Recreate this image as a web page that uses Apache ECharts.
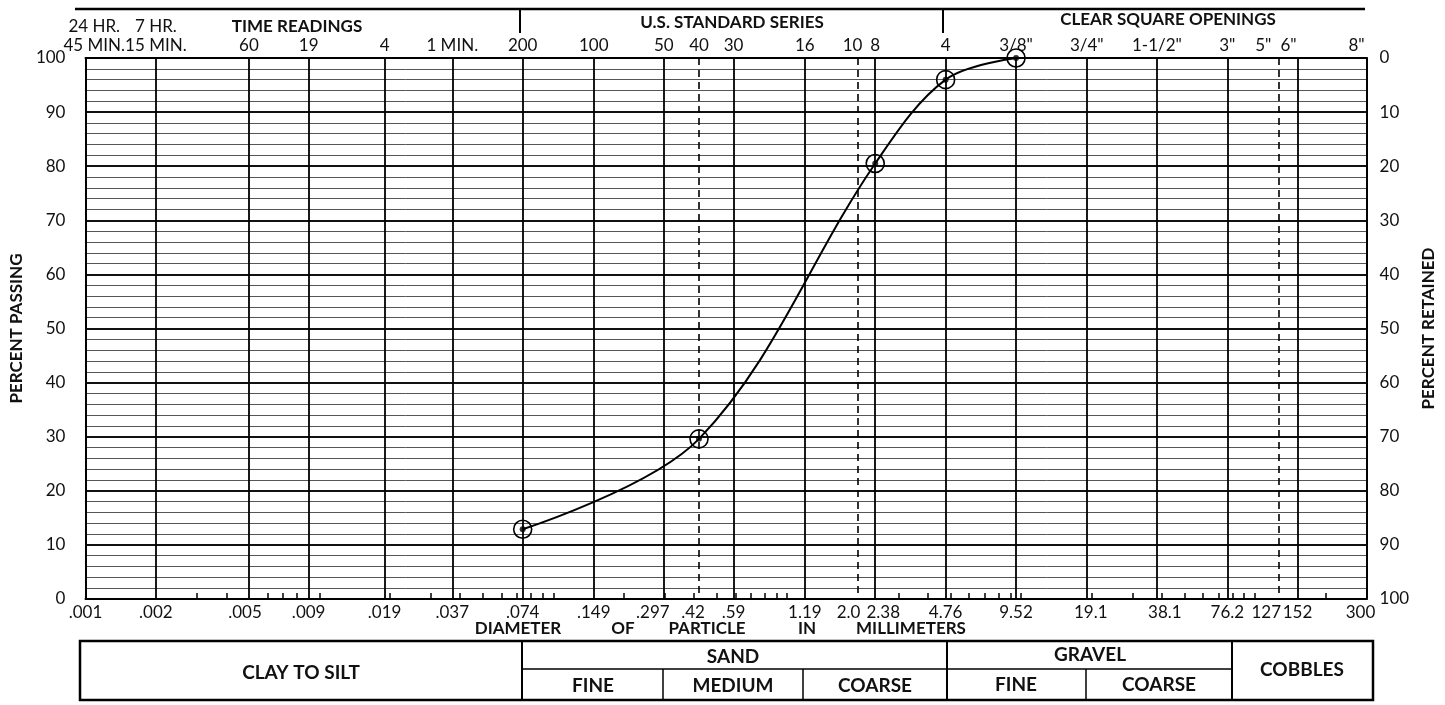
<!DOCTYPE html>
<html>
<head>
<meta charset="utf-8">
<script src="https://cdn.jsdelivr.net/npm/echarts@6/dist/echarts.min.js"></script>
<style>
html,body{margin:0;padding:0;background:#fff;}
#chart{width:1445px;height:705px;}
</style>
</head>
<body>
<div id="chart"></div>
<script>
// ---------------- DATA ----------------
const particleSizeMm = [0.074, 0.42, 2.38, 4.76, 9.52];
const percentPassing = [12.9, 29.6, 80.5, 96.0, 100];

const bottomTickValues = [0.001, 0.002, 0.005, 0.009, 0.019, 0.037, 0.074, 0.149, 0.297, 0.42, 0.59, 1.19, 2.0, 2.38, 4.76, 9.52, 19.1, 38.1, 76.2, 127, 152, 300];
const bottomTickLabels = ['.001', '.002', '.005', '.009', '.019', '.037', '.074', '.149', '.297', '.42', '.59', '1.19', '2.0', '2.38', '4.76', '9.52', '19.1', '38.1', '76.2', '127', '152', '300'];

const solidGridValues = [0.002, 0.005, 0.009, 0.019, 0.037, 0.074, 0.149, 0.297, 0.59, 1.19, 2.38, 4.76, 9.52, 19.1, 38.1, 76.2, 152];
const dashedGridValues = [0.42, 2.0, 127];
const minorTickValues = [0.003, 0.004, 0.006, 0.007, 0.008, 0.01, 0.02, 0.03, 0.04, 0.05, 0.06, 0.07, 0.08, 0.09, 0.1, 0.2, 0.3, 0.4, 0.5, 0.6, 0.7, 0.8, 0.9, 1, 3, 4, 5, 6, 7, 8, 9, 10, 20, 30, 40, 50, 60, 70, 80, 90, 100, 200];

const topTickValues = [0.00109, 0.002, 0.005, 0.009, 0.019, 0.037, 0.074, 0.149, 0.297, 0.42, 0.59, 1.19, 2.0, 2.38, 4.76, 9.52, 19.1, 38.1, 76.2, 127, 152, 272];
const topTickLabels = ['24 HR.\n45 MIN.', '7 HR.\n15 MIN.', '60', '19', '4', '1 MIN.', '200', '100', '50', '40', '30', '16', '10', '8', '4', '3/8"', '3/4"', '1-1/2"', '3"', '5"', '6"', '8"'];

// ---------------- LAYOUT / STYLE ----------------
const FONT = 'Lato, "Open Sans", "DejaVu Sans", sans-serif';
const INK = '#111';
// small horizontal nudges (px) of some tick labels, as printed on the form
const bottomNudge = {'.005': -4, '.297': -11, '.42': -6, '2.0': -9, '2.38': 8, '19.1': 4, '38.1': 8, '127': -13, '300': -6};
const topNudge = {'10': -5, '5"': -16, '6"': -9};

function nearestIdx(arr, v) {
  let best = 0, bd = Infinity;
  arr.forEach((a, i) => { const d = Math.abs(Math.log(a) - Math.log(v)); if (d < bd) { bd = d; best = i; } });
  return best;
}
function styleName(s) { return (s < 0 ? 'm' : 'p') + Math.abs(s); }
function makeFormatter(values, texts, nudge) {
  return function (v) {
    const t = texts[nearestIdx(values, v)];
    const s = nudge[t] || 0;
    if (!s) return t;
    return '{' + styleName(s) + '|' + t + '}';
  };
}
function makeRich(nudge, size) {
  const r = {};
  Object.keys(nudge).forEach(k => {
    const s = nudge[k];
    r[styleName(s)] = {
      padding: s < 0 ? [0, -2 * s, 0, 0] : [0, 0, 0, 2 * s],
      fontSize: size, fontFamily: FONT, color: INK
    };
  });
  return r;
}

const chart = echarts.init(document.getElementById('chart'));

const gridBox = {left: 84, right: 72, top: 58, bottom: 106};
const hidden = {show: false};

function logAxis(extra) {
  return Object.assign({
    type: 'log', logBase: 10, min: 0.001, max: 300, gridIndex: 0,
    axisLine: {show: false, onZero: false},
    axisTick: {show: false},
    axisLabel: {show: false},
    splitLine: {show: false},
    minorTick: hidden, minorSplitLine: hidden
  }, extra);
}

const seriesData = particleSizeMm.map((d, i) => [d, percentPassing[i]]);

// table + header decoration
const TL = 80, TR = 1373, TT = 641, TB = 700, TM = 669;
function hline(x1, x2, y, w) { return {type: 'line', silent: true, shape: {x1, y1: y, x2, y2: y}, style: {stroke: '#000', lineWidth: w}}; }
function vline(x, y1, y2, w) { return {type: 'line', silent: true, shape: {x1: x, y1, x2: x, y2}, style: {stroke: '#000', lineWidth: w}}; }
function txt(s, x, y, size, bold) {
  return {type: 'text', silent: true, x, y, style: {text: s, fontSize: size, fontWeight: bold ? 'bold' : 'normal', fontFamily: FONT, fill: INK, align: 'center', verticalAlign: 'middle'}};
}

const graphics = [
  hline(75, 1365, 9, 2.5),
  vline(520, 9, 33, 2),
  vline(943, 9, 33, 2),
  txt('TIME READINGS', 297, 27, 17, true),
  txt('U.S. STANDARD SERIES', 732, 23, 17, true),
  txt('CLEAR SQUARE OPENINGS', 1168, 20, 17, true),
  txt('DIAMETER', 518, 629, 17, true),
  txt('OF', 623, 629, 17, true),
  txt('PARTICLE', 707, 629, 17, true),
  txt('IN', 807, 629, 17, true),
  txt('MILLIMETERS', 911, 629, 17, true),
  {type: 'rect', silent: true, shape: {x: TL, y: TT, width: TR - TL, height: TB - TT}, style: {fill: 'none', stroke: '#000', lineWidth: 2.5}},
  hline(522, 1232, TM, 1.5),
  vline(522, TT, TB, 2),
  vline(663, TM, TB, 1.5),
  vline(803, TM, TB, 1.5),
  vline(947, TT, TB, 2),
  vline(1086, TM, TB, 1.5),
  vline(1232, TT, TB, 2),
  txt('CLAY TO SILT', 301, 673, 19, true),
  txt('SAND', 733, 657, 19, true),
  txt('FINE', 593, 686, 19, true),
  txt('MEDIUM', 733, 686, 19, true),
  txt('COARSE', 875, 686, 19, true),
  txt('GRAVEL', 1090, 655, 19, true),
  txt('FINE', 1016, 685, 19, true),
  txt('COARSE', 1159, 685, 19, true),
  txt('COBBLES', 1302, 670, 19, true)
];

const option = {
  backgroundColor: '#fff',
  animation: false,
  textStyle: {fontFamily: FONT},
  grid: gridBox,
  xAxis: [
    // bottom: labels + solid vertical grid lines
    logAxis({
      position: 'bottom',
      axisLine: {show: true, onZero: false, lineStyle: {color: '#000', width: 2}},
      axisTick: {show: false, customValues: solidGridValues},
      axisLabel: {
        show: true, customValues: bottomTickValues, hideOverlap: false,
        fontSize: 17, fontFamily: FONT, color: INK, margin: 5,
        formatter: makeFormatter(bottomTickValues, bottomTickLabels, bottomNudge),
        rich: makeRich(bottomNudge, 17)
      },
      splitLine: {show: true, lineStyle: {color: '#000', width: 1.8}}
    }),
    // dashed vertical lines
    logAxis({
      position: 'bottom',
      axisTick: {show: false, customValues: dashedGridValues},
      splitLine: {show: true, lineStyle: {color: '#000', width: 1.6, type: [7, 5]}}
    }),
    // small minor ticks on bottom edge
    logAxis({
      position: 'bottom',
      axisTick: {show: true, inside: true, length: 6, customValues: minorTickValues, lineStyle: {color: '#000', width: 1.5}}
    }),
    // top: sieve numbers / openings / time readings
    logAxis({
      position: 'top',
      axisLine: {show: true, onZero: false, lineStyle: {color: '#000', width: 2}},
      axisLabel: {
        show: true, customValues: topTickValues, hideOverlap: false,
        fontSize: 17, fontFamily: FONT, color: INK, margin: 3, lineHeight: 19,
        formatter: makeFormatter(topTickValues, topTickLabels, topNudge),
        rich: makeRich(topNudge, 17)
      }
    })
  ],
  yAxis: [
    {
      type: 'value', position: 'left', min: 0, max: 100, interval: 10,
      axisLine: {show: true, lineStyle: {color: '#000', width: 2}},
      axisTick: {show: false},
      axisLabel: {margin: 20, fontSize: 17, fontFamily: FONT, color: INK},
      splitLine: {show: true, lineStyle: {color: '#111', width: 2}},
      minorTick: {show: false, splitNumber: 5},
      minorSplitLine: {show: true, lineStyle: {color: '#555', width: 1}},
      name: 'PERCENT PASSING', nameLocation: 'middle', nameGap: 58, nameRotate: 90,
      nameTextStyle: {fontSize: 17, fontWeight: 'bold', fontFamily: FONT, color: INK}
    },
    {
      type: 'value', position: 'right', min: 0, max: 100, interval: 10, inverse: true,
      axisLine: {show: true, lineStyle: {color: '#000', width: 2}},
      axisTick: {show: false},
      axisLabel: {margin: 13, fontSize: 17, fontFamily: FONT, color: INK},
      splitLine: {show: false},
      name: 'PERCENT RETAINED', nameLocation: 'middle', nameGap: 50, nameRotate: 90,
      nameTextStyle: {fontSize: 17, fontWeight: 'bold', fontFamily: FONT, color: INK}
    }
  ],
  series: [
    {
      type: 'line', xAxisIndex: 0, yAxisIndex: 0,
      data: seriesData, smooth: 0.35, clip: false,
      symbol: 'circle', symbolSize: 18, showAllSymbol: true,
      lineStyle: {color: '#000', width: 2},
      itemStyle: {color: 'rgba(255,255,255,0)', borderColor: '#000', borderWidth: 1.6},
      emphasis: {disabled: true}, z: 5
    },
    {
      type: 'scatter', xAxisIndex: 0, yAxisIndex: 0,
      data: seriesData, symbolSize: 6, clip: false,
      itemStyle: {color: '#000'}, emphasis: {disabled: true}, z: 6
    }
  ],
  graphic: graphics
};

chart.setOption(option);
</script>
</body>
</html>
